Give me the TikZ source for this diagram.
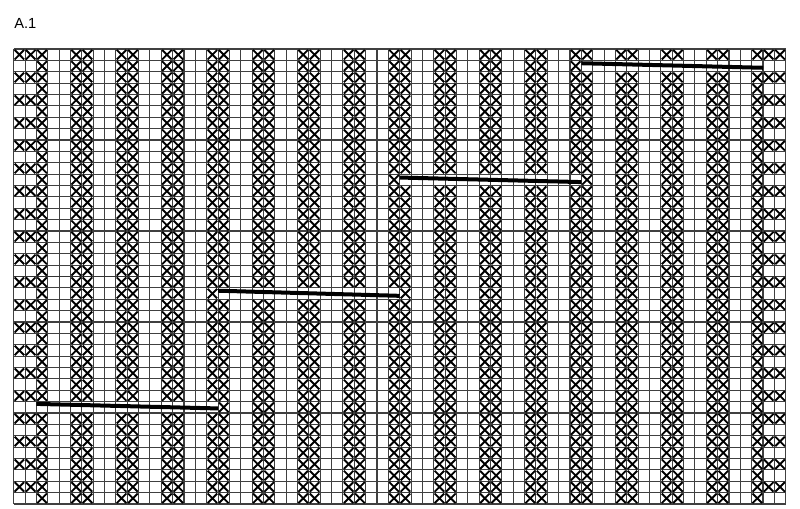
\documentclass[tikz,border=0pt]{standalone}
\usepackage{fontspec}
\setmainfont{Liberation Sans}

% one cross in column #1, row #2 (counted from the top left)
\newcommand{\kryss}[2]{%
\draw[kryss] ({#1-0.92},{#2-0.92}) -- ({#1-0.08},{#2-0.08})
             ({#1-0.08},{#2-0.92}) -- ({#1-0.92},{#2-0.08});%
}

\begin{document}
\begin{tikzpicture}[x=0.75pt,y=-0.75pt]
\tikzset{
	rute/.style={draw=black!75, line width=0.8pt},
	midtlinje/.style={draw=black!80, line width=1.3pt},
	kryss/.style={draw=black, line width=1.4pt},
	kabel/.style={draw=black, line width=3pt},
	tittel/.style={anchor=base west, inner sep=0pt, font=\fontsize{11}{13}\selectfont}
}
\useasboundingbox (0,0) rectangle (800,508);

% tittel
\node[tittel] (a1) at (14,28.3) {A.1};

% diagrammet: 68 masker, 40 pinner
\begin{scope}[shift={(10.275pt,-36.75pt)}, x=8.515pt, y=-8.531pt]

% rutenett
\foreach \k in {0,...,68} \draw[rute] (\k,0) -- (\k,40);
\foreach \k in {0,...,40} \draw[rute] (0,\k) -- (68,\k);
\draw[midtlinje] (0,20) -- (68,20);

% kantmasker
\foreach \r in {1,3,...,39}
	\foreach \c in {1,2,67,68}
		\kryss{\c}{\r};

% ribbene, tomme under kabelen
\foreach \r in {1,...,40}
	\foreach \c in {3,6,7,10,11,14,15,18,19,22,23,26,27,30,31,34,35,38,39,42,43,46,47,50,51,54,55,58,59,62,63,66}{
		\pgfmathtruncatemacro{\underkabel}{(mod(\r,10)==2) && (\c>=51-16*int(\r/10)) && (\c<=66-16*int(\r/10))}
		\ifnum\underkabel=0 \kryss{\c}{\r}\fi
	}

% kabler
\draw[kabel] (50,1.25) -- (66,1.65);
\draw[kabel] (34,11.3) -- (50,11.7);
\draw[kabel] (18,21.25) -- (34,21.7);
\draw[kabel] (2,31.2) -- (18,31.6);

\end{scope}

\end{tikzpicture}
\end{document}
